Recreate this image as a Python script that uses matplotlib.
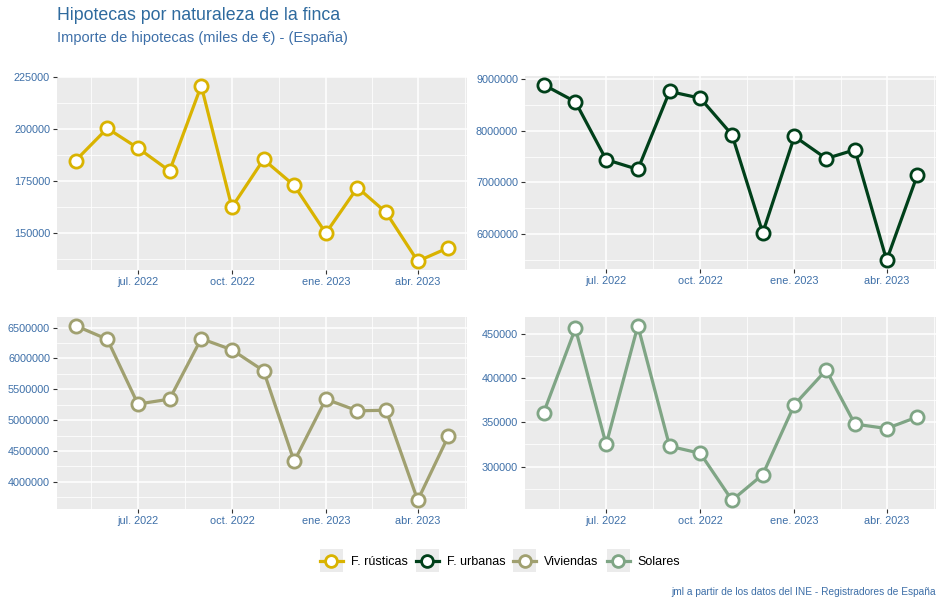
import datetime as dt
import matplotlib
matplotlib.use('Agg')
import matplotlib.pyplot as plt
import matplotlib.dates as mdates
from matplotlib.lines import Line2D
from matplotlib.patches import Rectangle
from matplotlib.legend_handler import HandlerLine2D

plt.rcParams['font.family'] = ['Liberation Sans', 'DejaVu Sans']

# monthly data, May 2022 .. May 2023
months = [dt.date(2022, m, 1) for m in range(5, 13)] + [dt.date(2023, m, 1) for m in range(1, 6)]

rusticas = [185000, 200500, 191000, 180000, 221000, 162500, 185500, 173000, 150000, 172000, 160000, 136500, 143000]
urbanas = [8890000, 8560000, 7440000, 7250000, 8760000, 8630000, 7920000, 6020000, 7890000, 7460000, 7630000, 5490000, 7140000]
viviendas = [6530000, 6310000, 5260000, 5340000, 6320000, 6140000, 5800000, 4330000, 5340000, 5150000, 5160000, 3700000, 4740000]
solares = [361000, 456000, 325000, 459000, 323000, 315000, 262000, 291000, 370000, 409000, 348000, 343000, 356000]

series_names = ['F. rústicas', 'F. urbanas', 'Viviendas', 'Solares']
series_vals = [rusticas, urbanas, viviendas, solares]
colors = ['#D9B300', '#00401A', '#A0A070', '#7FA585']

x_ticks = [dt.date(2022, 7, 1), dt.date(2022, 10, 1), dt.date(2023, 1, 1), dt.date(2023, 4, 1)]
x_labels = ['jul. 2022', 'oct. 2022', 'ene. 2023', 'abr. 2023']

y_ticks = [
    [150000, 175000, 200000, 225000],
    [6000000, 7000000, 8000000, 9000000],
    [4000000, 4500000, 5000000, 5500000, 6000000, 6500000],
    [300000, 350000, 400000, 450000],
]

W, H = 944, 607
fig = plt.figure(figsize=(W / 100, H / 100), dpi=100)
fig.patch.set_facecolor('white')

# panel boxes in pixels: left, top, right, bottom
boxes = [(57, 77, 467, 270), (525, 76, 936, 269), (57, 317, 467, 509), (525, 317, 936, 509)]

label_blue = '#3D6FA8'
xt_num = mdates.date2num(x_ticks)
step = xt_num[1] - xt_num[0]
x_minor = [xt_num[0] - step / 2] + [(a + b) / 2 for a, b in zip(xt_num[:-1], xt_num[1:])] + [xt_num[-1] + step / 2]

for i, (vals, col) in enumerate(zip(series_vals, colors)):
    l, t, r, b = boxes[i]
    ax = fig.add_axes([l / W, 1 - b / H, (r - l) / W, (b - t) / H])
    ax.set_facecolor('#EBEBEB')
    for s in ax.spines.values():
        s.set_visible(False)
    ax.plot(months, vals, color=col, lw=2.3, marker='o', ms=9.5, mfc='white', mec=col, mew=2.0, zorder=3)

    ax.set_xticks(x_ticks)
    ax.set_xticklabels(x_labels)
    ax.set_xticks(x_minor, minor=True)
    yt = y_ticks[i]
    ax.set_yticks(yt)
    ax.set_yticklabels([str(v) for v in yt])
    ys = yt[1] - yt[0]
    ax.set_yticks([yt[0] - ys / 2] + [v + ys / 2 for v in yt], minor=True)

    # limits after ticks (set_ticks can widen the view)
    xn = mdates.date2num(months)
    xr = xn[-1] - xn[0]
    ax.set_xlim(xn[0] - 0.05 * xr, xn[-1] + 0.05 * xr)
    yr = max(vals) - min(vals)
    ax.set_ylim(min(vals) - 0.05 * yr, max(vals) + 0.05 * yr)

    ax.grid(which='major', color='white', lw=1.1)
    ax.grid(which='minor', color='white', lw=0.55)
    ax.set_axisbelow(True)
    ax.tick_params(which='major', length=3, width=0.8, color='#333333', labelsize=7.8,
                   labelcolor=label_blue, pad=2)
    ax.tick_params(which='minor', length=0)

fig.text(57 / W, 1 - 16 / H, 'Hipotecas por naturaleza de la finca', fontsize=12.8,
         color='#2E6A9E', va='center', ha='left')
fig.text(57 / W, 1 - 38 / H, 'Importe de hipotecas (miles de €) - (España)', fontsize=10.5,
         color='#3D6FA8', va='center', ha='left')
fig.text(936 / W, 1 - 592 / H, 'jml a partir de los datos del INE - Registradores de España',
         fontsize=7.3, color='#3D6FA8', va='center', ha='right')


class KeyHandler(HandlerLine2D):
    def create_artists(self, legend, orig_handle, xdescent, ydescent, width, height, fontsize, trans):
        rect = Rectangle((-xdescent, -ydescent - (width - height) / 2), width, width,
                         facecolor='#EBEBEB', edgecolor='none', transform=trans)
        arts = super().create_artists(legend, orig_handle, xdescent, ydescent, width, height, fontsize, trans)
        return [rect] + arts


handles = [Line2D([], [], color=c, lw=2.3, marker='o', ms=8.5, mfc='white', mec=c, mew=2.0)
           for c in colors]
leg = fig.legend(handles, series_names, loc='center', bbox_to_anchor=(500 / W, 1 - 562 / H),
                 ncol=4, frameon=False, fontsize=9, handlelength=1.84, handletextpad=0.64,
                 columnspacing=0.64, handler_map={Line2D: KeyHandler()})

fig.savefig('out.png', dpi=100, facecolor='white')
